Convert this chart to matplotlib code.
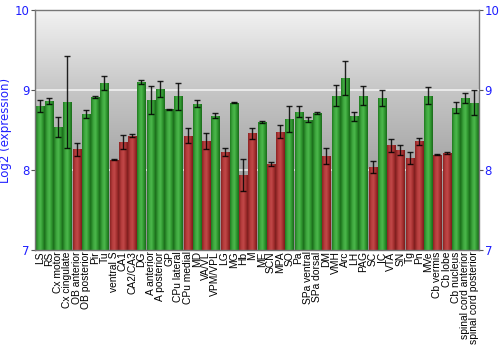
#!/usr/bin/env python3
"""Log2 expression per brain region, with bars shaded by regulation."""

import matplotlib
matplotlib.use("Agg")
import matplotlib.pyplot as plt
import numpy as np
from matplotlib.colors import LinearSegmentedColormap

regions = [
    "LS", "RS", "Cx motor", "Cx cingulate", "OB anterior", "OB posterior",
    "Pir", "Tu", "ventral S", "CA1", "CA2/CA3", "DG", "A anterior",
    "A posterior", "GP", "CPu lateral", "CPu medial", "MD", "VA/VL",
    "VPM/VPL", "LG", "MG", "Hb", "M", "ME", "SCN", "MPA", "SO", "Pa",
    "SPa ventral", "SPa dorsal", "DM", "VMH", "Arc", "LH", "PAG", "SC",
    "IC", "VTA", "SN", "Tg", "Pn", "MVe", "Cb vermis", "Cb lobe",
    "Cb nucleus", "spinal cord anterior", "spinal cord posterior",
]
expression = [
    8.80, 8.86, 8.54, 8.85, 8.26, 8.70, 8.91, 9.09, 8.13, 8.35, 8.43,
    9.10, 8.88, 9.01, 8.76, 8.92, 8.43, 8.83, 8.36, 8.68, 8.23, 8.84,
    7.94, 8.46, 8.60, 8.08, 8.48, 8.64, 8.73, 8.63, 8.71, 8.18, 8.93,
    9.15, 8.67, 8.93, 8.04, 8.90, 8.31, 8.25, 8.15, 8.36, 8.93, 8.19,
    8.21, 8.78, 8.90, 8.84,
]
sem = [
    0.07, 0.04, 0.125, 0.58, 0.08, 0.056, 0.01, 0.09, 0.005, 0.09, 0.02,
    0.02, 0.175, 0.10, 0.005, 0.165, 0.09, 0.04, 0.10, 0.035, 0.05, 0.005,
    0.20, 0.07, 0.01, 0.025, 0.08, 0.165, 0.07, 0.03, 0.015, 0.10, 0.135,
    0.21, 0.055, 0.12, 0.075, 0.10, 0.08, 0.065, 0.07, 0.045, 0.105, 0.005,
    0.015, 0.07, 0.06, 0.155,
]
# 1 = high (green), 0 = low (red)
high = [
    1, 1, 1, 1, 0, 1, 1, 1, 0, 0, 0, 1, 1, 1, 1, 1, 0, 1, 0, 1, 0, 1,
    0, 0, 1, 0, 0, 1, 1, 1, 1, 0, 1, 1, 1, 1, 0, 1, 0, 0, 0, 0, 1, 0,
    0, 1, 1, 1,
]

green_cm = LinearSegmentedColormap.from_list(
    "g", ["#1f7a1f", "#3da53d", "#4cb84c", "#2f952f", "#1a6a1a"])
red_cm = LinearSegmentedColormap.from_list(
    "r", ["#8a2222", "#b43c3c", "#c24848", "#a53030", "#7a1c1c"])
bg_cm = LinearSegmentedColormap.from_list(
    "bg", ["#8e8e8e", "#a4a4a4", "#c6c6c6", "#f2f2f2"])

fig = plt.figure(figsize=(5, 3.5), dpi=100)
ax = fig.add_axes([0.07, 0.2857, 0.888, 0.6857])
ymin, ymax = 7, 10
ax.set_xlim(-0.5, len(regions) - 0.5)
ax.set_ylim(ymin, ymax)

# vertical gray gradient behind everything
grad = np.linspace(0, 1, 256).reshape(-1, 1)
ax.imshow(grad, cmap=bg_cm, aspect="auto", origin="lower",
          extent=(-0.5, len(regions) - 0.5, ymin, ymax), zorder=0)

for y in (8, 9):
    ax.axhline(y, color="white", lw=1.2, alpha=0.75, zorder=1)

x = np.arange(len(regions))
bars = ax.bar(x, np.array(expression) - ymin, bottom=ymin, width=0.88,
              color="none", edgecolor="none", zorder=2)
shade = np.linspace(0, 1, 64).reshape(1, -1)
for b, h in zip(bars, high):
    x0, w = b.get_x(), b.get_width()
    im = ax.imshow(shade, cmap=green_cm if h else red_cm, aspect="auto",
                   extent=(x0, x0 + w, ymin, b.get_y() + b.get_height()),
                   zorder=2)
    im.set_clip_path(b)

ax.errorbar(x, expression, yerr=sem, fmt="none", ecolor="black",
            elinewidth=1, capsize=2.5, capthick=1, alpha=0.85, zorder=3)

ax.set_xticks(x)
ax.set_xticklabels(regions, rotation=90, fontsize=7.4,
                   family=["Liberation Sans", "DejaVu Sans"])
ax.tick_params(axis="x", length=0, pad=1)
ax.set_yticks([7, 8, 9, 10])
ax.tick_params(axis="y", which="both", length=3, colors="#555555",
               labelcolor="#1f1fff", labelsize=8.5, right=True,
               labelright=True, pad=1)
ax.set_ylabel("Log2 (expression)", color="#1f1fff", fontsize=8.5,
              labelpad=2)

for s in ax.spines.values():
    s.set_color("#777777")
    s.set_linewidth(1)

fig.savefig("out.png", dpi=100)
